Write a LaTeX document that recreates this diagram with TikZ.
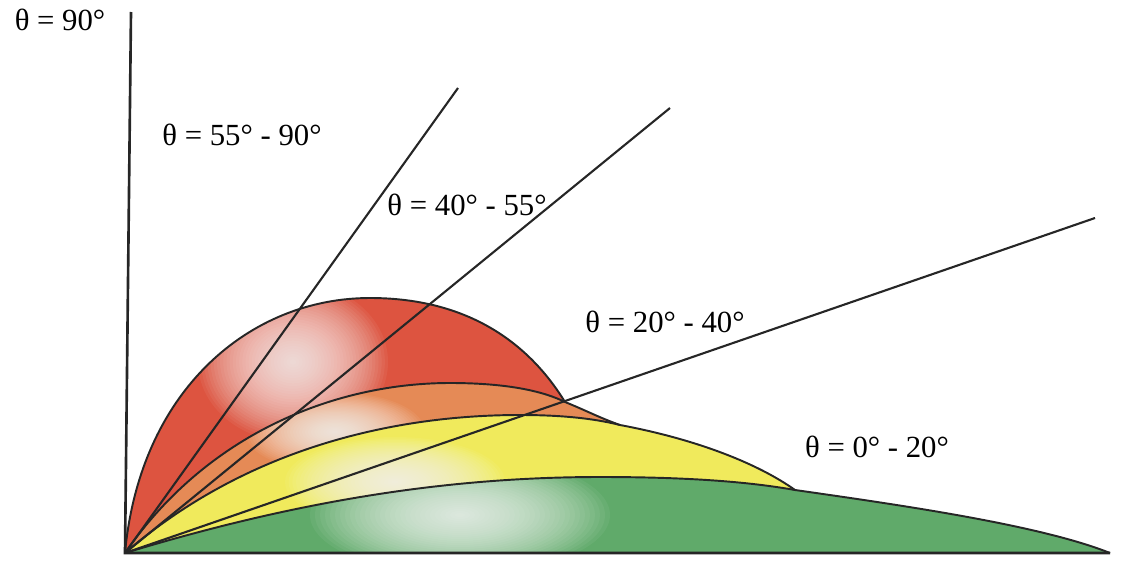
\documentclass[tikz,border=0pt]{standalone}
\usepackage{fontspec}
\setmainfont{Liberation Serif}
\usepackage{xcolor}
\usetikzlibrary{positioning}
\definecolor{trajred}{RGB}{221,84,64}
\definecolor{trajorange}{RGB}{229,138,86}
\definecolor{trajyellow}{RGB}{240,234,92}
\definecolor{trajgreen}{RGB}{96,170,106}

\begin{document}
\begin{tikzpicture}[
    x=0.02cm, y=-0.02cm,
    axis/.style={line width=1.5pt, black!85},
    trail/.style={line width=1.1pt, black!85},
    ray/.style={line width=1.2pt, black!85},
    tag/.style={font=\fontsize{17.5}{19}\selectfont, inner sep=0pt},
    zone/.style n args={4}{path picture={
        \fill[#1] (path picture bounding box.south west) rectangle (path picture bounding box.north east);
        \foreach \k in {1,...,30}
            \fill[white, fill opacity=0.055] (#2) ellipse ({#3*\k/30} and {#4*\k/30});}}
]
    \useasboundingbox (0,0) rectangle (1142,571);

    % Key points
    \coordinate (O) at (125,553);
    \coordinate (top) at (131,12);
    \coordinate (far) at (1110,553);
    \coordinate (redEnd) at (565,402);
    \coordinate (orangeEnd) at (620,425);
    \coordinate (yellowEnd) at (795,490);

    % Zones
    \path[zone={trajred}{293,362}{95}{80}] (O) .. controls (140,390) and (250,298) .. (370,298)
        .. controls (470,298) and (530,345) .. (redEnd) -- cycle;
    \path[zone={trajorange}{335,432}{90}{40}] (O) .. controls (210,430) and (340,383) .. (450,383)
        .. controls (510,383) and (545,392) .. (redEnd)
        .. controls (585,410) and (600,418) .. (orangeEnd) -- cycle;
    \path[zone={trajyellow}{395,482}{110}{45}] (O) .. controls (250,445) and (400,415) .. (520,415)
        .. controls (570,415) and (600,420) .. (orangeEnd)
        .. controls (700,440) and (760,465) .. (yellowEnd) -- cycle;
    \path[zone={trajgreen}{460,515}{150}{60}] (O) .. controls (300,500) and (450,477) .. (600,477)
        .. controls (690,477) and (750,482) .. (yellowEnd)
        .. controls (900,505) and (1040,525) .. (far) -- cycle;

    % Trajectories
    \draw[trail] (O) .. controls (140,390) and (250,298) .. (370,298)
        .. controls (470,298) and (530,345) .. (redEnd);
    \draw[trail] (O) .. controls (210,430) and (340,383) .. (450,383)
        .. controls (510,383) and (545,392) .. (redEnd)
        .. controls (585,410) and (600,418) .. (orangeEnd);
    \draw[trail] (O) .. controls (250,445) and (400,415) .. (520,415)
        .. controls (570,415) and (600,420) .. (orangeEnd)
        .. controls (700,440) and (760,465) .. (yellowEnd);
    \draw[trail] (O) .. controls (300,500) and (450,477) .. (600,477)
        .. controls (690,477) and (750,482) .. (yellowEnd)
        .. controls (900,505) and (1040,525) .. (far);

    % Axes
    \draw[axis] (top) -- (O) -- (far);

    % Angle rays
    \coordinate (ray55) at (458,88);
    \coordinate (ray40) at (670,108);
    \coordinate (ray20) at (1095,218);
    \draw[ray] (O) -- (ray55);
    \draw[ray] (O) -- (ray40);
    \draw[ray] (O) -- (ray20);

    % Labels
    \node[tag] (t90) at (60,20) {θ = 90°};
    \node[tag] (t55) at (242,135) {θ = 55° - 90°};
    \node[tag] (t40) at (467,205) {θ = 40° - 55°};
    \node[tag] (t20) at (665,322) {θ = 20° - 40°};
    \node[tag] (t0) at (877,447) {θ = 0° - 20°};
\end{tikzpicture}
\end{document}
